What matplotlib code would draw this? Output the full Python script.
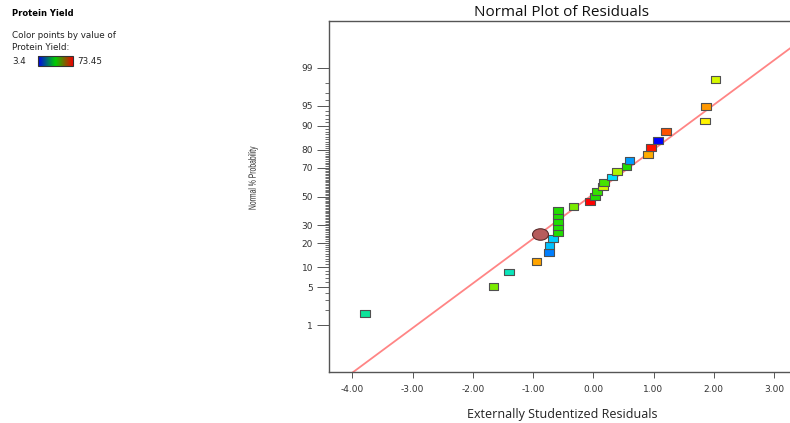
import matplotlib
matplotlib.use('Agg')
import matplotlib.pyplot as plt
import numpy as np
from statistics import NormalDist
from matplotlib.path import Path
from matplotlib.colors import LinearSegmentedColormap
from matplotlib.cm import ScalarMappable
from matplotlib.textpath import TextPath
from matplotlib.patches import PathPatch
from matplotlib.font_manager import FontProperties
from matplotlib.transforms import Affine2D, IdentityTransform

# Residuos (eixo x) e probabilidade normal em % (eixo y), em ordem
residuos = [-3.785, -1.655, -1.40, -0.94, -0.73, -0.725, -0.67,
            -0.59, -0.59, -0.59, -0.59, -0.59, -0.325, -0.055,
            0.03, 0.06, 0.16, 0.18, 0.31, 0.39, 0.55, 0.60,
            0.91, 0.96, 1.07, 1.21, 1.85, 1.87, 2.03]
prob_pct = [1.7, 5.2, 8.6, 12.1, 15.5, 19.0, 22.4, 25.9, 29.3, 32.8,
            36.2, 39.7, 43.1, 46.6, 50.0, 53.4, 56.9, 60.3, 63.8, 67.2,
            70.7, 74.1, 77.6, 81.0, 84.5, 87.9, 91.4, 94.8, 98.3]
# Valor de Protein Yield de cada ponto (lido pela cor)
protein_yield = [27.9, 45.4, 25.8, 62.2, 13.2, 18.1, 18.8,
                 38.4, 38.4, 38.4, 38.4, 38.4, 45.4, 73.45,
                 38.4, 39.8, 52.4, 41.2, 20.2, 49.6, 38.4, 15.3,
                 61.5, 72.0, 3.4, 67.8, 56.6, 62.9, 52.4]
yield_min, yield_max = 3.4, 73.45

# Ponto destacado (elipse)
destaque_x = [-0.885]
destaque_pct = [24.7]

# Linha de referencia
linha_x = [-3.985, 3.30]
linha_pct = [0.075, 99.66]

# Ticks do eixo y
y_ticks = [1, 5, 10, 20, 30, 50, 70, 80, 90, 95, 99]
y_minor = list(range(1, 100))
x_ticks = [-4, -3, -2, -1, 0, 1, 2, 3]

nd = NormalDist()


def pct_to_z(p):
    p = np.clip(np.asarray(p, dtype=float), 1e-9, 100 - 1e-9)
    return np.vectorize(lambda v: nd.inv_cdf(v / 100.0), otypes=[float])(p)


def z_to_pct(z):
    z = np.asarray(z, dtype=float)
    return np.vectorize(lambda v: nd.cdf(v) * 100.0, otypes=[float])(z)


W, H = 790, 423
fig = plt.figure(figsize=(W / 100, H / 100), dpi=100)
ax = fig.add_axes([329 / W, 1 - 372 / H, (790 - 329) / W, (372 - 21) / H])
ax.set_yscale('function', functions=(pct_to_z, z_to_pct))

cmap = LinearSegmentedColormap.from_list(
    'dx', ['#0000ff', '#00e8ff', '#22dd00', '#ffff00', '#ff0000'])

# Linha
ax.plot(linha_x, linha_pct, color='#ff8585', lw=1.3, zorder=2)

# Marcadores retangulares
ret = Path([(-1, -0.72), (1, -0.72), (1, 0.72), (-1, 0.72), (-1, -0.72)],
           [Path.MOVETO, Path.LINETO, Path.LINETO, Path.LINETO, Path.CLOSEPOLY])
sc = ax.scatter(residuos, prob_pct, c=protein_yield, cmap=cmap,
                vmin=yield_min, vmax=yield_max, marker=ret, s=48,
                edgecolors='#505050', linewidths=0.8, zorder=3)

# Elipse
circ = Path.unit_circle()
elip = Path(circ.vertices * np.array([1.0, 0.72]), circ.codes)
ax.plot(destaque_x, destaque_pct, ls='none', marker=elip, ms=11.5,
        mfc='#b65c5c', mec='#5a2c2c', mew=0.8, zorder=4)

ax.set_xlim(-4.387, 3.266)
ax.set_ylim(z_to_pct(-3.174), z_to_pct(3.174))

ax.set_xticks(x_ticks)
ax.set_xticklabels(['%.2f' % v for v in x_ticks])
ax.set_yticks(y_ticks)
ax.set_yticklabels([str(v) for v in y_ticks])
ax.set_yticks(y_minor, minor=True)
ax.tick_params(axis='y', which='minor', length=3.2, width=0.6, color='#555555')
ax.tick_params(axis='y', which='major', length=8.5, width=0.7, color='#555555',
               labelsize=6.5, pad=3, labelcolor='#333333')
ax.tick_params(axis='x', which='major', length=4.5, width=0.7, color='#555555',
               labelsize=6.5, pad=5, labelcolor='#333333')
ax.tick_params(axis='x', which='minor', length=0)

ax.spines['right'].set_visible(False)
for s in ['left', 'bottom', 'top']:
    ax.spines[s].set_color('#555555')
    ax.spines[s].set_linewidth(1.0)

# Titulos
fig.text(562 / W, 1 - 12 / H, 'Normal Plot of Residuals', ha='center',
         va='center', fontsize=11, family='Open Sans', color='#111111')
fig.text(562 / W, 1 - 414 / H, 'Externally Studentized Residuals',
         ha='center', va='center', fontsize=9, family='Open Sans',
         color='#222222')

# Rotulo do eixo y em fonte estreita (texto comprimido na horizontal)
tp = TextPath((0, 0), 'Normal % Probability', size=10.5,
              prop=FontProperties(family='Liberation Sans'))
ext = tp.get_extents()
escala = 63.0 / ext.width
trans = (Affine2D()
         .translate(-(ext.x0 + ext.x1) / 2, -(ext.y0 + ext.y1) / 2)
         .scale(escala, 1.0)
         .rotate_deg(90)
         .translate(253, H - 178))
fig.patches.append(PathPatch(trans.transform_path(tp), facecolor='#2a2a2a',
                             edgecolor='none', transform=IdentityTransform(),
                             figure=fig))

# Legenda da esquerda
fig.text(12 / W, 1 - 13 / H, 'Protein Yield', fontsize=6.0,
         fontweight='bold', va='center')
fig.text(12 / W, 1 - 36 / H, 'Color points by value of', fontsize=6.3,
         va='center', color='#222222')
fig.text(12 / W, 1 - 48 / H, 'Protein Yield:', fontsize=6.3,
         va='center', color='#222222')
fig.text(12 / W, 1 - 61 / H, '3.4', fontsize=6.3, va='center',
         color='#222222')
fig.text(77 / W, 1 - 61 / H, '73.45', fontsize=6.3, va='center',
         color='#222222')
# Barra de cores da legenda (azul -> verde -> vermelho)
cmap_barra = LinearSegmentedColormap.from_list(
    'barra', ['#0000ee', '#00cc00', '#ee0000'])
cax = fig.add_axes([38 / W, 1 - 66 / H, 35 / W, 10 / H])
sm = ScalarMappable(cmap=cmap_barra)
sm.set_clim(yield_min, yield_max)
cb = fig.colorbar(sm, cax=cax, orientation='horizontal')
cb.set_ticks([])
cb.outline.set_edgecolor('#333333')
cb.outline.set_linewidth(0.8)

fig.savefig('out.png', dpi=100)
